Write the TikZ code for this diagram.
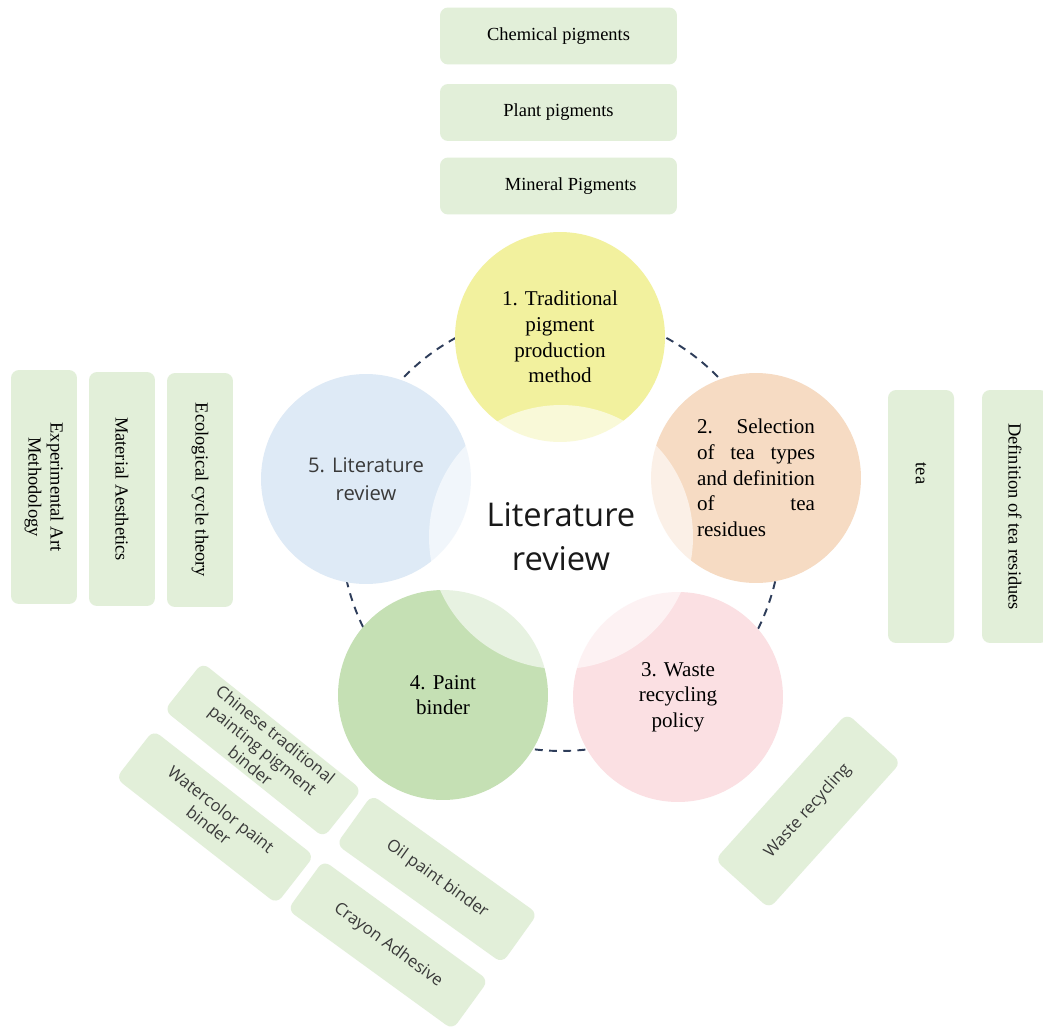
\documentclass[tikz,border=0pt]{standalone}
\usepackage{fontspec}
\setmainfont{Liberation Serif}
\setsansfont{Open Sans}
\usepackage{tikz}
\definecolor{pyellow}{HTML}{F2F19E}
\definecolor{porange}{HTML}{F6DBC3}
\definecolor{ppink}{HTML}{FBE0E3}
\definecolor{pgreen}{HTML}{C5E0B4}
\definecolor{pblue}{HTML}{DEEAF6}
\definecolor{boxgreen}{HTML}{E2EFD9}
\definecolor{ringblue}{HTML}{2E3D5A}
\definecolor{inkgray}{HTML}{3A3A3A}

\begin{document}
\begin{tikzpicture}[x=0.02cm,y=-0.02cm,
  petal/.style={circle,minimum size=4.2cm,inner sep=0pt,align=center,
    font=\fontsize{12}{14.6}\selectfont},
  hub/.style={circle,minimum size=5.28cm,inner sep=0pt,fill=white,
    fill opacity=.6,text opacity=1,align=center,text=black!90,
    font=\sffamily\fontsize{18.6}{25}\selectfont},
  ring/.style={draw=ringblue,line width=1.1pt,dash pattern=on 4.5pt off 3.6pt},
  flatbox/.style={rounded corners=0.16cm,fill=boxgreen,inner sep=2pt,
    minimum width=4.74cm,minimum height=1.14cm,
    font=\fontsize{10.5}{12.6}\selectfont},
  upbox/.style={flatbox,rotate=-90,align=center,
    minimum width=4.68cm,minimum height=1.32cm},
  tiltbox/.style={flatbox,align=center,text=inkgray,
    minimum width=4.08cm,minimum height=1.22cm,
    font=\sffamily\fontsize{9.5}{11.5}\selectfont}]
\useasboundingbox[fill=white] (0,0) rectangle (1043,1031);

\coordinate (mid) at (561,531);
\path[ring] (mid) circle[radius=4.4cm];

\node[petal,fill=pyellow] (p1) at (560,337) {1. Traditional\\pigment\\production\\method};
\node[petal,fill=porange,align=left] (p2) at (756,478)
  {\makebox[2.36cm][s]{2. Selection}\\\makebox[2.36cm][s]{of tea types}\\
   \makebox[2.36cm][s]{and definition}\\\makebox[2.36cm][s]{of tea}\\residues};
\node[petal,fill=ppink] (p3) at (678,697) {3. Waste\\recycling\\policy};
\node[petal,fill=pgreen] (p4) at (443,695) {4. Paint\\binder};
\node[petal,fill=pblue,text=inkgray,font=\sffamily\fontsize{11.5}{15.9}\selectfont]
  (p5) at (366,479) {5. Literature\\review};
\node[hub] (lit) at (561,537) {Literature\\review};

\node[flatbox] (chem) at (558.5,36) {Chemical pigments};
\node[flatbox] (plant) at (558.5,112.5) {Plant pigments};
\node[flatbox] (mineral) at (558.5,186) {\hspace{0.49cm}Mineral Pigments};

\node[upbox] (expart) at (44,487) {Experimental Art\\Methodology};
\node[upbox] (aesth) at (122,489) {Material Aesthetics};
\node[upbox] (ecocycle) at (200,490) {Ecological cycle theory};
\node[upbox,minimum width=5.06cm] (tea) at (921,516.5) {tea\hspace{1.72cm}};
\node[upbox,minimum width=5.06cm] (teadef) at (1015,516.5) {Definition of tea residues};

\node[tiltbox,rotate=-38.6] (chinese) at (263,750) {Chinese traditional\\painting pigment\\binder};
\node[tiltbox,rotate=-38] (watercolor) at (215,817) {Watercolor paint\\binder};
\node[tiltbox,rotate=-35.6] (oil) at (437,879) {Oil paint binder};
\node[tiltbox,rotate=-36] (crayon) at (388,945) {Crayon Adhesive};
\node[tiltbox,rotate=48,minimum width=3.94cm,minimum height=1.46cm]
  (waste) at (808,811) {Waste recycling};
\end{tikzpicture}
\end{document}
